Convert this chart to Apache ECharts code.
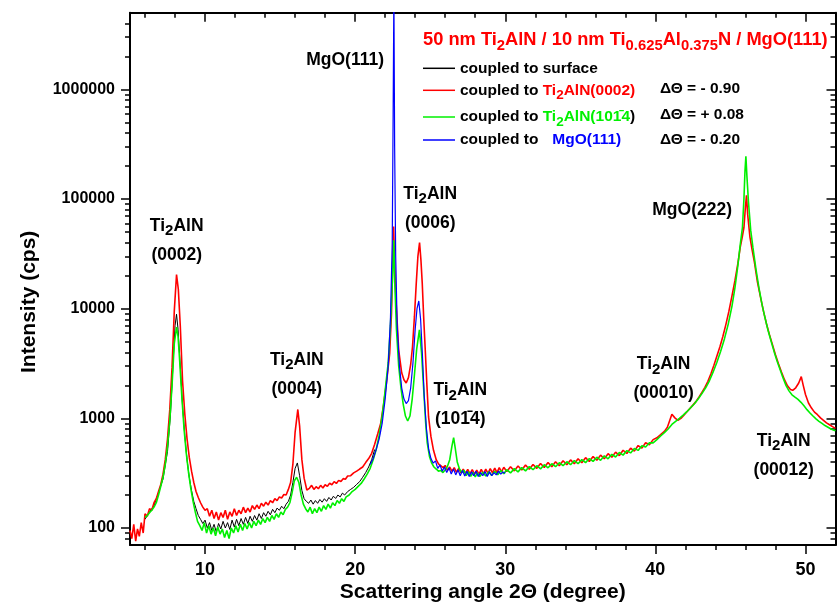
<!DOCTYPE html>
<html>
<head>
<meta charset="utf-8">
<script src="https://cdn.jsdelivr.net/npm/echarts@6/dist/echarts.min.js"></script>
<style>html,body{margin:0;padding:0;background:#fff}#c{width:837px;height:603px}</style>
</head>
<body>
<div id="c"></div>
<script>
// ---------------- DATA ----------------
const seriesNames = ['coupled to surface', 'coupled to Ti2AlN(0002)', 'coupled to Ti2AlN(10-14)', 'coupled to MgO(111)'];

// [scattering angle 2Theta, intensity cps]
// black: coupled to surface
const surface = [[6.0,120],[6.3,140],[6.6,160],[6.9,210],[7.2,280],[7.5,500],[7.7,1100],[7.85,2800],[8.0,7000],[8.1,8900],[8.2,6500],[8.35,3000],[8.5,1300],[8.65,700],[8.8,420],[8.95,290],[9.1,220],[9.25,175],[9.4,150],[9.55,130],[9.7,120],[9.85,110],[10.0,118],[10.15,100],[10.3,112],[10.45,95],[10.6,108],[10.75,92],[10.9,110],[11.05,98],[11.2,115],[11.35,100],[11.5,112],[11.65,97],[11.8,118],[11.95,102],[12.1,120],[12.25,105],[12.4,122],[12.55,108],[12.7,125],[12.85,110],[13.0,128],[13.15,115],[13.3,130],[13.45,118],[13.6,135],[13.75,122],[13.9,138],[14.05,128],[14.2,142],[14.35,132],[14.5,148],[14.65,138],[14.8,152],[14.95,145],[15.1,158],[15.25,150],[15.4,165],[15.55,175],[15.7,200],[15.85,260],[16.0,350],[16.15,392],[16.3,300],[16.45,220],[16.6,185],[16.75,175],[16.9,168],[17.05,180],[17.2,165],[17.35,178],[17.5,168],[17.65,182],[17.8,172],[17.95,185],[18.1,175],[18.25,190],[18.4,180],[18.55,195],[18.7,186],[18.85,200],[19.0,192],[19.15,208],[19.3,200],[19.5,215],[19.7,225],[19.9,235],[20.1,250],[20.3,265],[20.5,290],[20.7,320],[20.9,360],[21.1,420],[21.3,520]];

// red: coupled to Ti2AlN(0002)
const ti0002 = [[5.0,95],[5.12,80],[5.25,108],[5.38,76],[5.5,98],[5.62,84],[5.75,112],[5.88,90],[6.0,135],[6.15,128],[6.3,150],[6.45,145],[6.6,170],[6.75,185],[6.9,215],[7.05,250],[7.2,310],[7.35,420],[7.5,650],[7.65,1200],[7.8,2900],[7.95,9500],[8.1,20500],[8.22,15000],[8.35,7000],[8.5,2200],[8.65,1100],[8.8,650],[8.95,440],[9.1,330],[9.25,260],[9.4,215],[9.55,190],[9.7,170],[9.85,155],[10.0,145],[10.15,150],[10.3,128],[10.45,145],[10.6,122],[10.75,140],[10.9,118],[11.05,138],[11.2,125],[11.35,145],[11.5,120],[11.65,140],[11.8,128],[11.95,150],[12.1,130],[12.25,145],[12.4,135],[12.55,155],[12.7,138],[12.85,152],[13.0,140],[13.15,160],[13.3,148],[13.45,162],[13.6,150],[13.75,168],[13.9,158],[14.05,172],[14.2,162],[14.35,178],[14.5,170],[14.65,185],[14.8,178],[14.95,192],[15.1,188],[15.25,202],[15.4,200],[15.55,225],[15.7,260],[15.85,380],[16.0,750],[16.18,1205],[16.3,850],[16.45,420],[16.6,285],[16.78,222],[16.95,230],[17.1,245],[17.25,225],[17.4,238],[17.55,228],[17.7,245],[17.85,232],[18.0,248],[18.15,240],[18.3,256],[18.45,248],[18.6,265],[18.75,255],[18.9,272],[19.05,266],[19.2,282],[19.35,278],[19.5,298],[19.7,300],[19.9,318],[20.1,330],[20.3,345],[20.5,360],[20.7,395],[20.9,430],[21.1,480],[21.3,580],[21.5,720],[21.7,900],[21.9,1350],[22.1,2200],[22.3,3900],[22.42,9000],[22.5,25000],[22.56,56000],[22.63,25000],[22.72,11900],[22.9,4200],[23.1,2600],[23.25,2250],[23.4,2100],[23.55,2350],[23.7,3100],[23.82,4500],[23.95,8500],[24.07,17000],[24.18,30000],[24.29,40000],[24.38,28000],[24.47,17000],[24.57,8000],[24.67,4200],[24.78,2000],[24.89,1030],[25.05,680],[25.22,511],[25.4,420],[25.55,385],[25.7,370],[25.85,355],[26.0,372],[26.15,335],[26.3,360],[26.45,328],[26.6,355],[26.75,322],[26.9,350],[27.05,318],[27.2,345],[27.35,315],[27.5,342],[27.65,312],[27.8,340],[27.95,310],[28.1,338],[28.25,308],[28.4,342],[28.55,312],[28.7,345],[28.85,315],[29.0,348],[29.15,318],[29.3,352],[29.45,320],[29.6,355],[29.75,325],[29.9,358],[30.1,328],[30.35,362],[30.6,332],[30.85,368],[31.1,338],[31.35,375],[31.6,344],[31.85,380],[32.1,350],[32.35,388],[32.6,356],[32.85,395],[33.1,362],[33.35,402],[33.6,370],[33.85,410],[34.1,378],[34.35,418],[34.6,386],[34.85,428],[35.1,394],[35.35,438],[35.6,404],[35.85,448],[36.1,415],[36.35,462],[36.6,428],[36.85,476],[37.1,442],[37.35,492],[37.6,458],[37.85,512],[38.1,478],[38.35,535],[38.6,502],[38.85,565],[39.1,535],[39.35,598],[39.6,575],[39.85,640],[40.1,665],[40.35,710],[40.6,760],[40.8,830],[40.95,950],[41.1,1090],[41.3,1010],[41.5,960],[41.7,1000],[41.9,1070],[42.1,1150],[42.3,1230],[42.5,1320],[42.7,1420],[42.9,1560],[43.1,1720],[43.3,1920],[43.5,2180],[43.7,2550],[43.9,3050],[44.1,3700],[44.3,4500],[44.5,5600],[44.7,7200],[44.9,9500],[45.1,13000],[45.3,18000],[45.5,26000],[45.65,36000],[45.8,46000],[45.9,55000],[46.0,85000],[46.07,108000],[46.15,72000],[46.3,45000],[46.45,34000],[46.6,26500],[46.8,17500],[47.0,12800],[47.2,9500],[47.4,7300],[47.6,5800],[47.8,4700],[48.0,3800],[48.2,3150],[48.4,2650],[48.6,2250],[48.8,1980],[49.0,1830],[49.15,1800],[49.35,1900],[49.55,2100],[49.72,2400],[49.85,2000],[50.0,1650],[50.2,1380],[50.4,1240],[50.6,1140],[50.8,1080],[51.0,1010],[51.2,960],[51.4,910],[51.6,875],[51.8,840],[52.0,810]];

// green: coupled to Ti2AlN(10-14)
const ti1014 = [[6.0,125],[6.15,130],[6.3,138],[6.45,145],[6.6,155],[6.75,170],[6.9,200],[7.05,240],[7.2,290],[7.35,380],[7.5,560],[7.65,950],[7.8,2000],[7.95,4800],[8.1,6800],[8.2,5600],[8.3,3500],[8.45,1600],[8.6,800],[8.75,480],[8.9,320],[9.05,230],[9.2,175],[9.35,140],[9.5,115],[9.65,105],[9.8,95],[9.95,112],[10.1,90],[10.25,105],[10.4,88],[10.55,100],[10.7,85],[10.85,102],[11.0,88],[11.15,98],[11.3,82],[11.45,95],[11.6,80],[11.75,100],[11.9,90],[12.05,105],[12.2,92],[12.35,108],[12.5,95],[12.65,110],[12.8,98],[12.95,112],[13.1,100],[13.25,115],[13.4,105],[13.55,118],[13.7,108],[13.85,122],[14.0,112],[14.15,125],[14.3,115],[14.45,130],[14.6,120],[14.75,135],[14.9,125],[15.05,140],[15.2,132],[15.35,148],[15.5,155],[15.65,170],[15.8,210],[15.95,270],[16.1,290],[16.25,260],[16.4,200],[16.55,165],[16.7,150],[16.85,140],[17.0,155],[17.15,135],[17.3,150],[17.45,138],[17.6,155],[17.75,142],[17.9,160],[18.05,148],[18.2,165],[18.35,152],[18.5,170],[18.65,160],[18.8,178],[18.95,168],[19.1,185],[19.25,175],[19.4,192],[19.6,200],[19.8,215],[20.0,225],[20.2,240],[20.4,255],[20.6,280],[20.8,310],[21.0,350],[21.2,420],[21.4,520],[21.6,700],[21.8,1050],[22.0,1800],[22.2,3200],[22.35,7000],[22.48,18000],[22.57,42000],[22.65,16000],[22.75,6500],[22.9,3000],[23.05,1900],[23.2,1350],[23.35,1050],[23.5,946],[23.65,1050],[23.8,1500],[23.95,2500],[24.1,4300],[24.28,6400],[24.42,4000],[24.55,2000],[24.7,900],[24.8,600],[24.95,450],[25.1,390],[25.25,360],[25.4,345],[25.55,330],[25.7,335],[25.85,320],[26.0,340],[26.15,365],[26.3,420],[26.45,560],[26.56,668],[26.68,520],[26.8,400],[26.95,345],[27.1,320],[27.25,335],[27.4,300],[27.55,325],[27.7,296],[27.85,322],[28.0,292],[28.15,318],[28.3,295],[28.5,322],[28.7,298],[28.9,326],[29.1,302],[29.3,330],[29.5,306],[29.7,335],[29.9,312],[30.1,340],[30.35,318],[30.6,348],[30.85,325],[31.1,356],[31.35,332],[31.6,363],[31.85,340],[32.1,370],[32.35,346],[32.6,378],[32.85,354],[33.1,386],[33.35,362],[33.6,394],[33.85,370],[34.1,402],[34.35,378],[34.6,412],[34.85,386],[35.1,420],[35.35,395],[35.6,430],[35.85,405],[36.1,442],[36.35,414],[36.6,455],[36.85,428],[37.1,470],[37.35,444],[37.6,488],[37.85,462],[38.1,508],[38.35,484],[38.6,532],[38.85,510],[39.1,562],[39.35,548],[39.6,600],[39.85,598],[40.1,640],[40.35,690],[40.6,740],[40.85,800],[41.1,880],[41.35,940],[41.6,1000],[41.85,1070],[42.1,1150],[42.35,1250],[42.6,1360],[42.85,1500],[43.1,1680],[43.35,1900],[43.6,2200],[43.85,2650],[44.1,3250],[44.35,4100],[44.6,5300],[44.85,7200],[45.1,10500],[45.3,15500],[45.5,25000],[45.65,38000],[45.8,55000],[45.9,100000],[45.97,180000],[46.03,245000],[46.1,160000],[46.2,95000],[46.35,52000],[46.5,36000],[46.7,23000],[46.9,15500],[47.1,11000],[47.3,8300],[47.5,6400],[47.7,5100],[47.9,4100],[48.1,3350],[48.3,2800],[48.5,2350],[48.7,2000],[48.9,1780],[49.1,1640],[49.3,1560],[49.5,1490],[49.7,1400],[49.9,1300],[50.1,1200],[50.3,1120],[50.5,1050],[50.7,990],[50.9,940],[51.1,900],[51.3,860],[51.5,830],[51.7,800],[51.9,780],[52.0,770]];

// blue: coupled to MgO(111)
const mgo111 = [[21.0,380],[21.2,430],[21.4,520],[21.6,650],[21.8,900],[22.0,1500],[22.2,3000],[22.35,8000],[22.47,40000],[22.53,600000],[22.58,8000000],[22.63,300000],[22.7,30000],[22.8,7000],[22.95,3000],[23.1,1900],[23.25,1500],[23.4,1365],[23.55,1450],[23.7,1900],[23.85,3200],[24.0,6500],[24.12,10000],[24.24,11750],[24.36,8000],[24.48,3800],[24.6,1600],[24.75,800],[24.9,520],[25.05,430],[25.2,390],[25.35,410],[25.5,350],[25.65,375],[25.8,330],[25.95,360],[26.1,320],[26.25,355],[26.4,310],[26.55,345],[26.7,305],[26.85,340],[27.0,300],[27.15,335],[27.3,298],[27.45,330],[27.6,295],[27.75,325],[27.9,300],[28.05,330],[28.2,295],[28.35,320],[28.5,300],[28.65,328],[28.8,295],[28.95,325],[29.1,300],[29.25,320],[29.4,305],[29.55,330],[29.7,310],[29.85,325],[30.0,315]];

// tick values
const xMajorTicks = [10, 20, 30, 40, 50];
const xMinorTicks = [6, 8, 12, 14, 16, 18, 22, 24, 26, 28, 32, 34, 36, 38, 42, 44, 46, 48];
const yMajorTicks = [100, 1000, 10000, 100000, 1000000];
const yMinorTicks = [80, 90, 200, 300, 400, 500, 600, 700, 800, 900, 2000, 3000, 4000, 5000, 6000, 7000, 8000, 9000,
  20000, 30000, 40000, 50000, 60000, 70000, 80000, 90000, 200000, 300000, 400000, 500000, 600000, 700000, 800000, 900000,
  2000000, 3000000, 4000000];

// peak annotations: anchor (angle, cps) and text
const peakLabelAngle = [8.11, 16.11, 25.0, 27.0, 40.55, 48.55, 42.45, 19.33];
const peakLabelCps = [42000, 2500, 82000, 1320, 2280, 461, 79300, 1850000];
const peakLabelText = ['Ti2AlN\n(0002)', 'Ti2AlN\n(0004)', 'Ti2AlN\n(0006)', 'Ti2AlN\n(101\u03044)', 'Ti2AlN\n(00010)', 'Ti2AlN\n(00012)', 'MgO(222)', 'MgO(111)'];

// ---------------- CHART ----------------
const F = "'Liberation Sans', Arial, Helvetica, sans-serif";
const chart = echarts.init(document.getElementById('c'), null, {renderer: 'canvas'});

const black = '#000';
const green = '#00f000';
const frameLine = {color: black, width: 2};
const tickLine = {color: black, width: 1.5};

function xAxisCfg(pos, ticks, len, inside, isMain) {
  return {
    type: 'value', min: 5, max: 52, position: pos, gridIndex: 0,
    axisLine: {show: isMain, onZero: false, lineStyle: frameLine},
    axisTick: {show: true, inside: inside, length: len, customValues: ticks, lineStyle: tickLine},
    minorTick: {show: false},
    splitLine: {show: false},
    axisLabel: isMain && pos === 'bottom' ? {
      show: true, customValues: xMajorTicks, formatter: v => String(Math.round(v)),
      color: black, fontFamily: F, fontWeight: 'bold', fontSize: 18, margin: 16
    } : {show: false},
    name: isMain && pos === 'bottom' ? 'Scattering angle 2\u0398 (degree)' : '',
    nameLocation: 'middle', nameGap: 37, nameMoveOverlap: false,
    nameTextStyle: {color: black, fontFamily: F, fontWeight: 'bold', fontSize: 21}
  };
}
function yAxisCfg(pos, ticks, len, inside, isMain) {
  return {
    type: 'log', logBase: 10, min: 70, max: 5000000, position: pos, gridIndex: 0,
    axisLine: {show: isMain, lineStyle: frameLine},
    axisTick: {show: true, inside: inside, length: len, customValues: ticks, lineStyle: tickLine},
    minorTick: {show: false},
    splitLine: {show: false},
    axisLabel: isMain && pos === 'left' ? {
      show: true, customValues: yMajorTicks, formatter: v => String(Math.round(v)),
      color: black, fontFamily: F, fontWeight: 'bold', fontSize: 16, margin: 15
    } : {show: false},
    name: isMain && pos === 'left' ? 'Intensity (cps)' : '',
    nameLocation: 'middle', nameGap: 90, nameRotate: 90, nameMoveOverlap: false,
    nameTextStyle: {color: black, fontFamily: F, fontWeight: 'bold', fontSize: 21, padding: [0, 46, 0, 0]}
  };
}

const subRich = (color, size, sub, lh, off) => ({
  m: {color: color, fontFamily: F, fontWeight: 'bold', fontSize: size, lineHeight: lh},
  s: {color: color, fontFamily: F, fontWeight: 'bold', fontSize: sub, lineHeight: lh - 2 * off, padding: [2 * off, 0, 0, 0]}
});

const legRich = {
  k: {color: '#000', fontFamily: F, fontWeight: 'bold', fontSize: 15.5, lineHeight: 20},
  r: {color: '#ff0000', fontFamily: F, fontWeight: 'bold', fontSize: 15.5, lineHeight: 20},
  rs: {color: '#ff0000', fontFamily: F, fontWeight: 'bold', fontSize: 13.5, lineHeight: 10, padding: [10, 0, 0, 0]},
  g: {color: green, fontFamily: F, fontWeight: 'bold', fontSize: 15.5, lineHeight: 20},
  gs: {color: green, fontFamily: F, fontWeight: 'bold', fontSize: 13.5, lineHeight: 10, padding: [10, 0, 0, 0]},
  b: {color: '#0000ff', fontFamily: F, fontWeight: 'bold', fontSize: 15.5, lineHeight: 20, padding: [0, 0, 0, 14]}
};
const legendTexts = [
  '{k|coupled to surface}',
  '{k|coupled to }{r|Ti}{rs|2}{r|AlN(0002)}',
  '{k|coupled to }{g|Ti}{gs|2}{g|AlN(101\u03044}{k|)}',
  '{k|coupled to}{b|MgO(111)}'
];
const legendTops = [53.3, 73.3, 100, 125];
const deltaTexts = [['\u0394\u0398 = - 0.90', 88.3], ['\u0394\u0398 = + 0.08', 115], ['\u0394\u0398 = - 0.20', 140]];

const peakRich = {
  a: {color: '#000', fontFamily: F, fontWeight: 'bold', fontSize: 17.5, lineHeight: 29},
  s: {color: '#000', fontFamily: F, fontWeight: 'bold', fontSize: 15, lineHeight: 19, padding: [10, 0, 0, 0]}
};
const peakFmt = p => peakLabelText[p.dataIndex].split('\n')
  .map(l => l === 'Ti2AlN' ? '{a|Ti}{s|2}{a|AlN}' : '{a|' + l + '}').join('\n');

const lineSeries = (name, data, color, width) => ({
  type: 'line', name: name, data: data, xAxisIndex: 0, yAxisIndex: 0,
  showSymbol: false, symbol: 'none', smooth: false, sampling: null, clip: true,
  lineStyle: {color: color, width: width}, itemStyle: {color: color},
  emphasis: {disabled: true}, animation: false
});

const option = {
  backgroundColor: '#fff',
  animation: false,
  textStyle: {fontFamily: F},
  grid: {left: 130, right: 1.5, top: 12.7, bottom: 58, containLabel: false, outerBoundsMode: 'none'},
  title: {
    left: 418, top: 23.5, padding: 5,
    text: '{m|50 nm Ti}{s|2}{m|AlN / 10 nm Ti}{s|0.625}{m|Al}{s|0.375}{m|N / MgO(111)}',
    textStyle: {rich: subRich('#ff0000', 18.3, 14.8, 22, 6)}
  },
  legend: legendTexts.map((t, i) => ({
    data: [seriesNames[i]], left: 418, top: legendTops[i], padding: 5, orient: 'horizontal',
    icon: 'rect', itemWidth: 32, itemHeight: 1.5, itemGap: 0, selectedMode: false,
    formatter: () => t,
    textStyle: {color: '#000', fontFamily: F, fontWeight: 'bold', fontSize: 15.5, lineHeight: 20, rich: legRich}
  })),
  graphic: deltaTexts.map(d => ({
    type: 'text', x: 660, y: d[1], silent: true,
    style: {text: d[0], fill: '#000', font: 'bold 15.5px ' + F, verticalAlign: 'middle', textVerticalAlign: 'middle'}
  })),
  xAxis: [
    xAxisCfg('bottom', xMajorTicks, 9, false, true),
    xAxisCfg('bottom', xMinorTicks, 5, false, false),
    xAxisCfg('top', xMajorTicks, 9, true, true),
    xAxisCfg('top', xMinorTicks, 5, true, false)
  ],
  yAxis: [
    yAxisCfg('left', yMajorTicks, 9, false, true),
    yAxisCfg('left', yMinorTicks, 5, false, false),
    yAxisCfg('right', yMajorTicks, 9, true, true),
    yAxisCfg('right', yMinorTicks, 5, true, false)
  ],
  series: [
    lineSeries(seriesNames[0], surface, '#000000', 1),
    lineSeries(seriesNames[1], ti0002, '#ff0000', 1.6),
    lineSeries(seriesNames[2], ti1014, green, 1.6),
    lineSeries(seriesNames[3], mgo111, '#0000ff', 1.2),
    {
      type: 'scatter', name: 'peaks', xAxisIndex: 0, yAxisIndex: 0, silent: true,
      data: peakLabelAngle.map((a, i) => [a, peakLabelCps[i]]), symbolSize: 0,
      itemStyle: {color: 'transparent', opacity: 1},
      label: {show: true, position: [0, 0], formatter: peakFmt, rich: peakRich, align: 'center', verticalAlign: 'middle',
        opacity: 1, color: '#000', fontFamily: F, fontWeight: 'bold', fontSize: 17.5, lineHeight: 29},
      emphasis: {disabled: true}, z: 10
    }
  ]
};
chart.setOption(option);
</script>
</body>
</html>
